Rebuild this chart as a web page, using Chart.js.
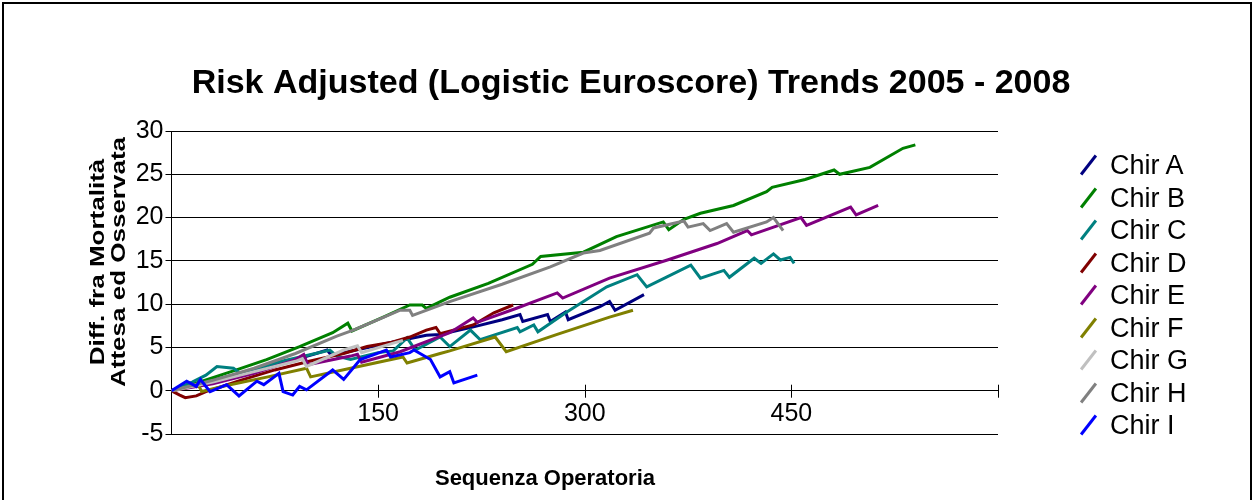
<!DOCTYPE html>
<html>
<head>
<meta charset="utf-8">
<script src="https://cdn.jsdelivr.net/npm/chart.js@4.4.1/dist/chart.umd.min.js"></script>
<style>
  html, body { margin: 0; padding: 0; background: #fff; }
  #wrap { position: relative; width: 1255px; height: 500px; overflow: hidden; font-family: 'Liberation Sans', Arial, sans-serif; color: #000; }
  #frame { position: absolute; left: 2px; top: 2px; width: 1250px; height: 530px; border: 2px solid #000; box-sizing: border-box; pointer-events: none; }
  canvas { position: absolute; left: 0; top: 0; }
  .ytitle { position: absolute; left: 108px; top: 262px; transform: translate(-50%, -50%) rotate(-90deg) scale(1.3, 1); white-space: nowrap; text-align: center; font-weight: bold; font-size: 20px; line-height: 21px; }
  .xtitle { position: absolute; left: 545px; top: 478px; transform: translate(-50%, -50%); white-space: nowrap; font-weight: bold; font-size: 22px; }
  .leg { position: absolute; left: 1080px; height: 30px; width: 170px; }
  .leg .sym { position: absolute; left: 7px; top: 3px; width: 3px; height: 24px; transform: rotate(38deg); }
  .leg .txt { position: absolute; left: 30px; top: 0; line-height: 30px; font-size: 27px; }
</style>
</head>
<body>
<div id="wrap">
  <canvas id="chart" width="1255" height="500"></canvas>
  <div id="frame"></div>
  <div class="ytitle">Diff. fra Mortalità<br>Attesa ed Osservata</div>
  <div class="xtitle">Sequenza Operatoria</div>
  <div id="legend"></div>
</div>
<script>
// series names + Excel default colours
const names = ['Chir A', 'Chir B', 'Chir C', 'Chir D', 'Chir E', 'Chir F', 'Chir G', 'Chir H', 'Chir I'];
const colors = ['#000080', '#008000', '#008080', '#800000', '#800080', '#808000', '#C0C0C0', '#808080', '#0000FF'];

// [sequence, difference]
const chirA = [[0,0],[30,1.2],[60,2.4],[90,3.6],[105,4.3],[113,4.7],[116,4.1],[140,4.9],[160,5.6],[185,6.4],[195,6.5],[220,7.4],[240,8.2],[253,8.8],[255,8.0],[273,8.8],[275,8.0],[286,9.1],[288,8.2],[311,9.7],[318,10.3],[322,9.3],[343,11.1]];
const chirB = [[0,0],[20,1.0],[45,2.3],[69,3.6],[93,5.1],[117,6.7],[128,7.8],[131,6.9],[155,8.6],[173,9.9],[182,9.9],[185,9.5],[202,10.8],[230,12.4],[262,14.6],[268,15.5],[299,16.0],[323,17.8],[357,19.5],[361,18.6],[372,19.8],[384,20.5],[408,21.4],[432,23.0],[436,23.5],[460,24.4],[481,25.5],[485,25.0],[507,25.8],[531,28.0],[540,28.4]];
const chirC = [[0,0],[15,1.0],[25,1.8],[33,2.8],[45,2.6],[50,2.0],[80,3.4],[110,4.5],[115,4.7],[120,4.0],[130,3.6],[150,4.4],[161,4.6],[171,6.1],[177,4.7],[195,6.2],[202,5.1],[217,7.0],[224,5.9],[251,7.3],[253,6.8],[263,7.6],[266,6.8],[287,9.1],[316,12.0],[338,13.4],[345,12.0],[377,14.5],[384,13.0],[401,13.9],[405,13.1],[423,15.3],[428,14.7],[437,15.8],[442,15.1],[449,15.4],[452,14.7]];
const chirD = [[0,0],[6,-0.5],[10,-0.8],[18,-0.6],[25,-0.1],[50,1.2],[75,2.4],[100,3.4],[125,4.3],[142,5.1],[160,5.6],[173,6.2],[185,7.0],[192,7.3],[195,6.6],[219,7.6],[234,9.0],[248,9.9]];
const chirE = [[0,0],[30,0.8],[60,2.0],[90,3.6],[96,4.2],[99,3.0],[130,4.0],[135,4.2],[138,3.3],[166,4.5],[202,6.7],[219,8.4],[222,7.9],[250,9.5],[280,11.3],[284,10.7],[318,13.0],[360,15.1],[396,17.0],[418,18.5],[421,18.0],[457,20.0],[461,19.1],[493,21.2],[497,20.3],[513,21.4]];
const chirF = [[0,0],[10,0.3],[19,0.8],[22,-0.1],[40,0.6],[70,1.6],[98,2.6],[101,1.6],[130,2.6],[168,3.9],[171,3.2],[195,4.3],[202,4.6],[235,6.2],[243,4.5],[280,6.5],[318,8.5],[335,9.3]];
const chirG = [[0,0],[30,1.0],[60,2.2],[90,3.4],[95,3.7],[98,2.8],[125,4.7],[135,5.2],[138,4.4],[161,5.5],[168,5.8]];
const chirH = [[0,0],[30,1.2],[60,2.6],[90,4.3],[120,6.3],[132,7.0],[150,8.2],[166,9.3],[173,9.3],[175,8.7],[202,10.3],[240,12.3],[275,14.3],[299,15.9],[311,16.2],[347,18.2],[350,18.8],[372,19.6],[375,18.9],[386,19.3],[391,18.5],[403,19.3],[408,18.3],[432,19.5],[437,20.0],[444,18.5]];
const chirI = [[0,0],[11,1.1],[18,0.5],[21,1.3],[28,-0.1],[40,0.7],[49,-0.6],[62,1.1],[67,0.7],[78,2.0],[81,-0.1],[88,-0.5],[93,0.5],[98,0.1],[117,2.4],[125,1.3],[137,3.6],[151,4.4],[156,4.7],[159,3.9],[173,4.4],[176,4.7],[188,3.6],[195,1.6],[202,2.2],[205,0.9],[222,1.8]];
const seriesData = [chirA, chirB, chirC, chirD, chirE, chirF, chirG, chirH, chirI];

// axes
const xTicks = [150, 300, 450];
const yMin = -5, yMax = 30, yStep = 5;
const xMin = 0, xMax = 600, xStep = 150;

const FONT = "'Liberation Sans', Arial, sans-serif";

// Excel style tick marks crossing the category axis at y = 0
const crossTicks = {
  id: 'crossTicks',
  beforeDatasetsDraw(chart) {
    const { ctx, scales: { x, y } } = chart;
    const y0 = y.getPixelForValue(0);
    ctx.save();
    ctx.strokeStyle = '#000';
    ctx.lineWidth = 1;
    x.ticks.forEach(t => {
      if (t.value === xMin) return;
      const px = Math.round(x.getPixelForValue(t.value)) + 0.5;
      ctx.beginPath();
      ctx.moveTo(px, y0 - 6);
      ctx.lineTo(px, y0 + 7);
      ctx.stroke();
    });
    ctx.restore();
  }
};

new Chart(document.getElementById('chart').getContext('2d'), {
  type: 'line',
  data: {
    datasets: seriesData.map((pts, i) => ({
      label: names[i],
      data: pts.map(p => ({ x: p[0], y: p[1] })),
      borderColor: colors[i],
      backgroundColor: colors[i],
      borderWidth: 3,
      pointRadius: 0,
      tension: 0,
      fill: false,
      order: names.length - i
    }))
  },
  options: {
    responsive: false,
    animation: false,
    layout: { padding: { left: 7, top: 0, right: 0, bottom: 66 } },
    plugins: {
      legend: { display: false },
      tooltip: { enabled: false },
      title: {
        display: true,
        text: 'Risk Adjusted (Logistic Euroscore) Trends 2005 - 2008',
        color: '#000',
        font: { family: FONT, size: 34, weight: 'bold' },
        padding: { top: 63, bottom: 27.2 }
      }
    },
    scales: {
      x: {
        type: 'linear',
        position: { y: 0 },
        min: xMin, max: xMax,
        grid: { display: false, drawTicks: false },
        border: { display: false },
        ticks: {
          stepSize: xStep,
          color: '#000',
          font: { family: FONT, size: 25 },
          padding: 8,
          maxRotation: 0,
          autoSkip: false,
          callback: v => xTicks.includes(v) ? String(v) : ''
        }
      },
      y: {
        min: yMin, max: yMax,
        grid: { color: '#000', lineWidth: 1, drawTicks: true, tickLength: 6 },
        border: { display: true, color: '#000', width: 1 },
        ticks: { stepSize: yStep, color: '#000', font: { family: FONT, size: 25 }, padding: 2 },
        afterFit: s => { s.width = 164.5; }
      },
      yr: {
        position: 'right',
        display: true,
        grid: { display: false, drawTicks: false },
        border: { display: false },
        ticks: { display: false },
        afterFit: s => { s.width = 257; }
      }
    }
  },
  plugins: [crossTicks]
});

// legend
const legend = document.getElementById('legend');
names.forEach((n, i) => {
  const d = document.createElement('div');
  d.className = 'leg';
  d.style.top = (165 + 32.5 * i - 15) + 'px';
  d.innerHTML = '<span class="sym" style="background:' + colors[i] + '"></span><span class="txt">' + n + '</span>';
  legend.appendChild(d);
});
</script>
</body>
</html>
